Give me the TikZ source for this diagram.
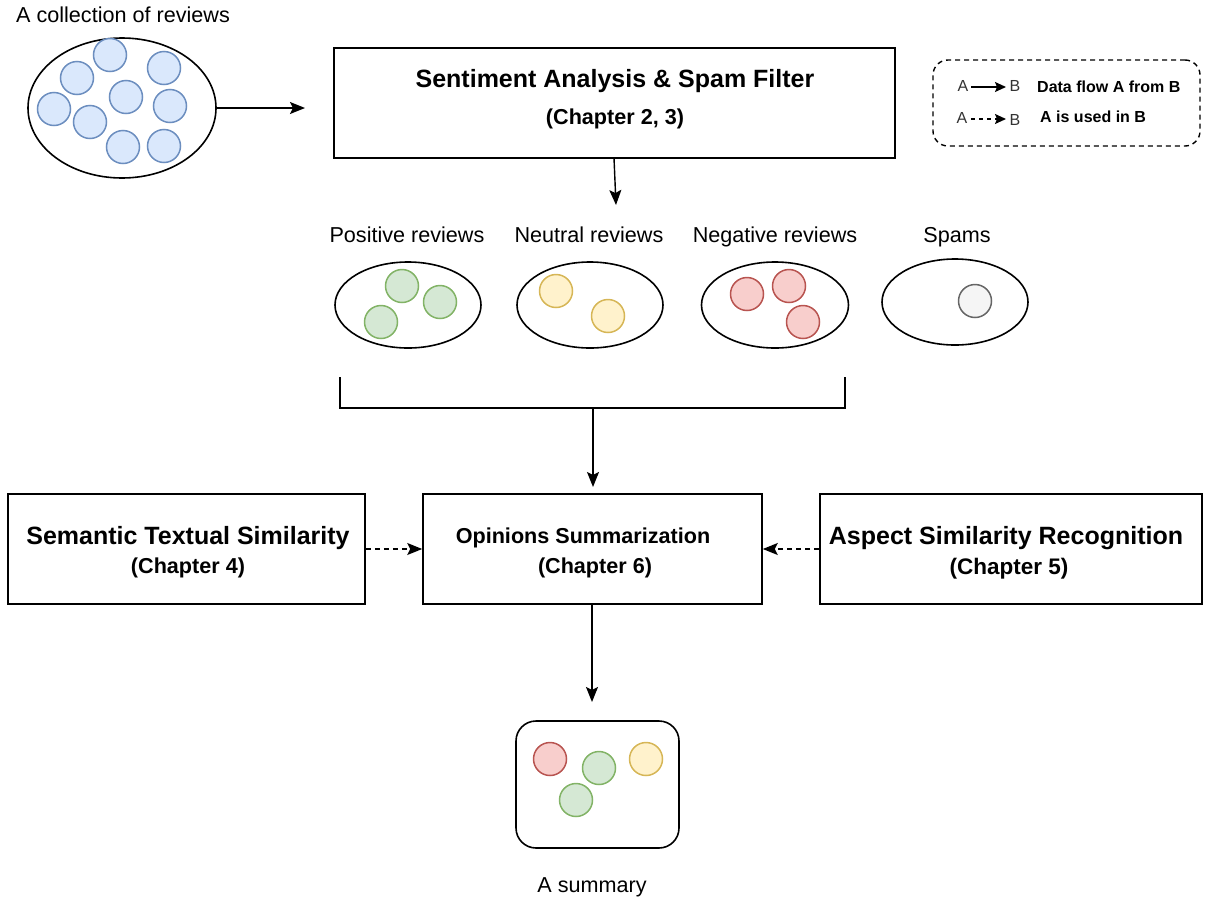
\documentclass[tikz,border=0pt]{standalone}
\usepackage{fontspec}
\setmainfont{Liberation Sans}
\usetikzlibrary{arrows.meta,shapes.geometric}
\definecolor{bluef}{HTML}{DAE8FC}\definecolor{blued}{HTML}{6C8EBF}
\definecolor{greenf}{HTML}{D5E8D4}\definecolor{greend}{HTML}{82B366}
\definecolor{yellowf}{HTML}{FFF2CC}\definecolor{yellowd}{HTML}{D6B656}
\definecolor{redf}{HTML}{F8CECC}\definecolor{redd}{HTML}{B85450}
\definecolor{grayf}{HTML}{F5F5F5}\definecolor{grayd}{HTML}{666666}
\begin{document}
\begin{tikzpicture}[x=1pt,y=-1pt,
  lw/.style={line width=1.6pt},
  boxnode/.style={draw,lw,inner sep=0pt},
  ell/.style={draw,lw,ellipse,inner sep=0pt},
  dot/.style 2 args={circle,draw=#2,fill=#1,line width=1.5pt,minimum size=33pt,inner sep=0pt},
  arr/.style={-{Stealth[length=15pt,width=12pt,inset=3pt]},line width=1.4pt},
  darr/.style={arr,dash pattern=on 5pt off 4pt},
  larr/.style={-{Stealth[length=11pt,width=10pt,inset=2pt]},line width=1.4pt},
  txt/.style={font=\fontsize{21.6}{26}\selectfont,inner sep=0pt,anchor=base},
  btxt/.style={font=\fontsize{21.6}{26}\selectfont\bfseries,inner sep=0pt,anchor=base},
  bigtxt/.style={font=\fontsize{25}{30}\selectfont\bfseries,inner sep=0pt,anchor=base},
  legtxt/.style={font=\fontsize{16}{19}\selectfont,inner sep=0pt,text=black!80,anchor=base},
  legbtxt/.style={font=\fontsize{16}{19}\selectfont\bfseries,inner sep=0pt,anchor=base west}
]
\useasboundingbox (0,0) rectangle (1205,900);

% collection of reviews
\node[txt] (tcoll) at (123,22.5) {A collection of reviews};
\node[ell,minimum width=188pt,minimum height=140pt] (coll) at (122,108) {};
\node[dot={bluef}{blued}] (b1) at (110,55) {};
\node[dot={bluef}{blued}] (b2) at (77,78) {};
\node[dot={bluef}{blued}] (b3) at (164,68) {};
\node[dot={bluef}{blued}] (b4) at (54,109) {};
\node[dot={bluef}{blued}] (b5) at (126,97) {};
\node[dot={bluef}{blued}] (b6) at (170,106) {};
\node[dot={bluef}{blued}] (b7) at (90,122) {};
\node[dot={bluef}{blued}] (b8) at (123,147) {};
\node[dot={bluef}{blued}] (b9) at (164,146) {};
\coordinate (collend) at (305,108);
\draw[arr] (coll.east) -- (collend);

% sentiment box
\node[boxnode,minimum width=561pt,minimum height=110pt] (sa) at (614.5,103) {};
\node[bigtxt] (satitle) at (615,87.5) {Sentiment Analysis \& Spam Filter};
\node[btxt] (sach) at (615,124.5) {(Chapter 2, 3)};
\coordinate (saend) at (616,205);
\draw[arr] (614,158) -- (saend);

% legend
\node[draw,line width=1.4pt,dash pattern=on 5pt off 4pt,rounded corners=15pt,minimum width=267pt,minimum height=86pt] (leg) at (1066.5,103) {};
\node[legtxt] (la1) at (963,91.5) {A};
\node[legtxt] (lb1) at (1015,91.5) {B};
\draw[larr] (971,87) -- (1006,87);
\node[legbtxt] (l1) at (1037,92.5) {Data flow A from B};
\node[legtxt] (la2) at (962,123.5) {A};
\node[legtxt] (lb2) at (1015,125.5) {B};
\draw[larr,dash pattern=on 4pt off 4pt] (971,119) -- (1006,119);
\node[legbtxt] (l2) at (1040,122.5) {A is used in B};

% categories
\node[txt] (tpos) at (407,242.5) {Positive reviews};
\node[txt] (tneu) at (589,242.5) {Neutral reviews};
\node[txt] (tneg) at (775,242.5) {Negative reviews};
\node[txt] (tspm) at (957,242.5) {Spams};
\node[ell,minimum width=146pt,minimum height=86pt] (pos) at (408,305) {};
\node[ell,minimum width=146pt,minimum height=86pt] (neu) at (590,305) {};
\node[ell,minimum width=147pt,minimum height=86pt] (neg) at (775,305) {};
\node[ell,minimum width=146pt,minimum height=86pt] (spm) at (955,302) {};
\node[dot={greenf}{greend}] (g1) at (402,286) {};
\node[dot={greenf}{greend}] (g2) at (440,302) {};
\node[dot={greenf}{greend}] (g3) at (381,322) {};
\node[dot={yellowf}{yellowd}] (y1) at (556,291) {};
\node[dot={yellowf}{yellowd}] (y2) at (608,316) {};
\node[dot={redf}{redd}] (r1) at (747,294) {};
\node[dot={redf}{redd}] (r2) at (789,286) {};
\node[dot={redf}{redd}] (r3) at (803,322) {};
\node[dot={grayf}{grayd}] (s1) at (975,301) {};

% bracket
\coordinate (brl) at (340,377);
\coordinate (brr) at (845,377);
\coordinate (brm) at (593,408);
\coordinate (brend) at (593,487);
\draw[lw] (brl) |- (brm) -| (brr);
\draw[arr] (brm) -- (brend);

% middle row
\node[boxnode,minimum width=357pt,minimum height=110pt] (sts) at (186.5,549) {};
\node[bigtxt] (ststitle) at (188,544) {Semantic Textual Similarity};
\node[btxt] (stsch) at (188,573.5) {(Chapter 4)};
\node[boxnode,minimum width=339pt,minimum height=110pt] (os) at (592.5,549) {};
\node[btxt] (ostitle) at (583,543.5) {Opinions Summarization};
\node[btxt] (osch) at (595,573.5) {(Chapter 6)};
\node[boxnode,minimum width=382pt,minimum height=110pt] (asr) at (1011,549) {};
\node[bigtxt] (asrtitle) at (1006,544) {Aspect Similarity Recognition};
\node[font=\fontsize{22.5}{27}\selectfont\bfseries,inner sep=0pt,anchor=base] (asrch) at (1009,574) {(Chapter 5)};
\draw[darr] (sts.east) -- (os.west);
\draw[darr] (asr.west) -- (os.east);

% summary
\coordinate (osend) at (592,702);
\draw[arr] (592,604) -- (osend);
\node[boxnode,rounded corners=20pt,minimum width=163pt,minimum height=127pt] (sum) at (597.5,784.5) {};
\node[dot={redf}{redd}] (sr) at (550,759) {};
\node[dot={greenf}{greend}] (sg1) at (599,768) {};
\node[dot={yellowf}{yellowd}] (sy) at (646,759) {};
\node[dot={greenf}{greend}] (sg2) at (576,800) {};
\node[txt] (tsum) at (592,892.5) {A summary};
\end{tikzpicture}
\end{document}
